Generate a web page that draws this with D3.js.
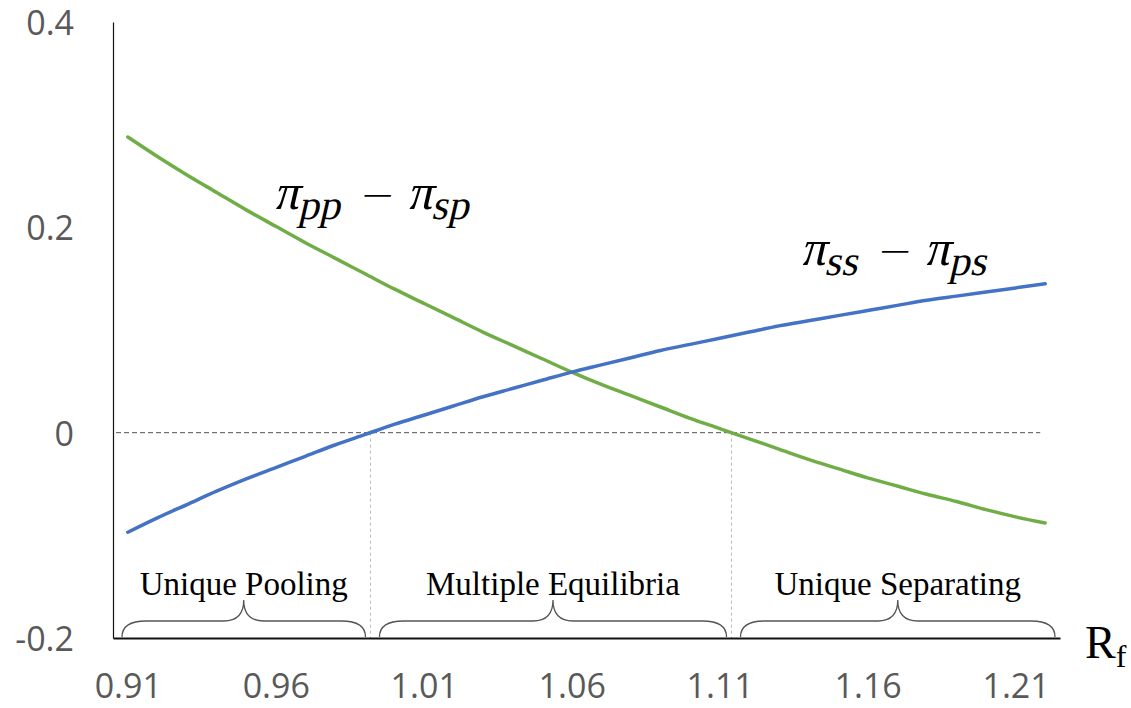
<!DOCTYPE html>
<html>
<head>
<meta charset="utf-8">
<script src="https://cdn.jsdelivr.net/npm/d3@7"></script>
<style>
  html, body { margin: 0; padding: 0; background: #fff; }
  svg { display: block; }
</style>
</head>
<body>
<div id="chart"></div>
<script>
// Risk-free rate categories (0.91 ... 1.22)
const rf = ["0.91","0.92","0.93","0.94","0.95","0.96","0.97","0.98","0.99","1.00",
            "1.01","1.02","1.03","1.04","1.05","1.06","1.07","1.08","1.09","1.10",
            "1.11","1.12","1.13","1.14","1.15","1.16","1.17","1.18","1.19","1.20",
            "1.21","1.22"];

// pi_pp - pi_sp (green)
const poolDiff = [0.288, 0.269, 0.251, 0.234, 0.217, 0.201, 0.185, 0.170, 0.155, 0.140,
                  0.126, 0.112, 0.098, 0.085, 0.072, 0.059, 0.047, 0.036, 0.025, 0.014,
                  0.004, -0.006, -0.016, -0.026, -0.035, -0.044, -0.052, -0.060, -0.067, -0.075,
                  -0.082, -0.088];

// pi_ss - pi_ps (blue)
const sepDiff = [-0.097, -0.083, -0.070, -0.057, -0.045, -0.034, -0.023, -0.012, -0.002, 0.008,
                 0.017, 0.026, 0.035, 0.043, 0.051, 0.059, 0.066, 0.073, 0.080, 0.086,
                 0.092, 0.098, 0.104, 0.109, 0.114, 0.119, 0.124, 0.129, 0.133, 0.137,
                 0.141, 0.145];

const xTickLabels = ["0.91","0.96","1.01","1.06","1.11","1.16","1.21"];
const yTickValues = [-0.2, 0, 0.2, 0.4];
const regionLabels = ["Unique Pooling", "Multiple Equilibria", "Unique Separating"];

const width = 1131, height = 708;

const svg = d3.select("#chart")
    .append("svg")
    .attr("width", width)
    .attr("height", height);

const x = d3.scalePoint()
    .domain(rf)
    .range([113, 1060])
    .padding(0.5);

const y = d3.scaleLinear()
    .domain([-0.2, 0.4])
    .range([638, 22]);

// где кривая пересекает ноль (линейная интерполяция)
function zeroCrossing(values) {
    for (let i = 1; i < values.length; i++) {
        if (Math.sign(values[i - 1]) !== Math.sign(values[i])) {
            const t = values[i - 1] / (values[i - 1] - values[i]);
            return x(rf[i - 1]) + t * (x(rf[i]) - x(rf[i - 1]));
        }
    }
    return null;
}
const cross1 = zeroCrossing(sepDiff);
const cross2 = zeroCrossing(poolDiff);

// zero reference line
svg.append("line")
    .attr("x1", x.range()[0] + 3)
    .attr("x2", x(rf[rf.length - 1]) - 5)
    .attr("y1", y(0))
    .attr("y2", y(0))
    .attr("stroke", "#555")
    .attr("stroke-width", 1)
    .attr("stroke-dasharray", "5,3");

// vertical boundaries
[cross1, cross2].forEach(cx => {
    svg.append("line")
        .attr("x1", cx).attr("x2", cx)
        .attr("y1", y(0)).attr("y2", y(-0.2))
        .attr("stroke", "#bbb")
        .attr("stroke-width", 1)
        .attr("stroke-dasharray", "3,3");
});

// axes
const xAxis = svg.append("g")
    .attr("transform", `translate(0,${y(-0.2)})`)
    .call(d3.axisBottom(x).tickValues(xTickLabels).tickSize(0).tickSizeOuter(0).tickPadding(36));
xAxis.select(".domain").attr("stroke", "#111").attr("stroke-width", 2);
xAxis.selectAll("text")
    .attr("font-family", "'Open Sans', sans-serif")
    .attr("font-size", "34px")
    .attr("fill", "#595959");

const yAxis = svg.append("g")
    .attr("transform", `translate(${x.range()[0]},0)`)
    .call(d3.axisLeft(y).tickValues(yTickValues).tickSize(0).tickSizeOuter(0).tickPadding(39)
        .tickFormat(d => d === 0 ? "0" : d.toFixed(1)));
yAxis.select(".domain").attr("stroke", "#111").attr("stroke-width", 1.2);
yAxis.selectAll("text")
    .attr("font-family", "'Open Sans', sans-serif")
    .attr("font-size", "34px")
    .attr("dy", "0.37em")
    .attr("fill", "#595959");

// series lines
const line = d3.line()
    .x((d, i) => x(rf[i]))
    .y(d => y(d))
    .curve(d3.curveMonotoneX);

svg.append("path")
    .datum(poolDiff)
    .attr("fill", "none")
    .attr("stroke", "#70AD47")
    .attr("stroke-width", 3.5)
    .attr("stroke-linecap", "round")
    .attr("d", line);

svg.append("path")
    .datum(sepDiff)
    .attr("fill", "none")
    .attr("stroke", "#4472C4")
    .attr("stroke-width", 3.5)
    .attr("stroke-linecap", "round")
    .attr("d", line);

// braces + region labels
const bounds = [x.range()[0], cross1, cross2, x.range()[1]];
const yBase = y(-0.2) - 1, yFlat = y(-0.2) - 17, yTip = y(-0.2) - 38;
regionLabels.forEach((label, i) => {
    const x1 = bounds[i] + 9, x2 = bounds[i + 1] - 5, xm = (x1 + x2) / 2;
    const p = d3.path();
    p.moveTo(x1, yBase);
    p.quadraticCurveTo(x1, yFlat, x1 + 24, yFlat);
    p.lineTo(xm - 20, yFlat);
    p.quadraticCurveTo(xm, yFlat, xm, yTip);
    p.quadraticCurveTo(xm, yFlat, xm + 20, yFlat);
    p.lineTo(x2 - 24, yFlat);
    p.quadraticCurveTo(x2, yFlat, x2, yBase);
    svg.append("path")
        .attr("d", p.toString())
        .attr("fill", "none")
        .attr("stroke", "#555")
        .attr("stroke-width", 1.3);

    svg.append("text")
        .attr("x", xm)
        .attr("y", y(-0.2) - 43)
        .attr("text-anchor", "middle")
        .attr("font-family", "'Liberation Serif', serif")
        .attr("font-size", "33px")
        .attr("fill", "#000")
        .text(label);
});

// curve labels (math style) — курсив через skewX
function mathLabel(px, py, a, b) {
    const t = svg.append("text")
        .attr("transform", `translate(${px},${py}) skewX(-13)`)
        .attr("font-family", "'Liberation Serif', serif")
        .attr("font-size", "50px")
        .attr("fill", "#000");
    t.append("tspan").text("π");
    t.append("tspan").attr("font-size", "42px")
        .attr("dx", 1).attr("dy", 10).text(a);
    t.append("tspan")
        .attr("font-family", "'DejaVu Sans', sans-serif")
        .attr("font-weight", "300")
        .attr("font-size", "42px")
        .attr("dx", 15).attr("dy", -10).text("−");
    t.append("tspan").attr("dx", 15).text("π");
    t.append("tspan").attr("font-size", "42px")
        .attr("dx", 1).attr("dy", 10).text(b);
}
mathLabel(x("0.96") - 2, y(0.218), "pp", "sp");
mathLabel(x("1.14") - 8, y(0.163), "ss", "ps");

// R_f axis title
const rt = svg.append("text")
    .attr("x", x.range()[1] + 25)
    .attr("y", y(-0.2) + 20)
    .attr("font-family", "'Liberation Serif', serif")
    .attr("font-size", "46px")
    .attr("fill", "#000");
rt.append("tspan").text("R");
rt.append("tspan").attr("font-size", "32px").attr("dy", 9).text("f");
</script>
</body>
</html>
